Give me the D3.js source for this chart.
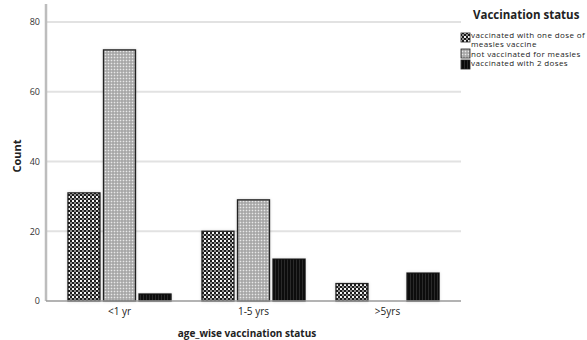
<!DOCTYPE html>
<html><head><meta charset="utf-8">
<script src="https://cdn.jsdelivr.net/npm/d3@7"></script>
<style>body{margin:0;background:#fff;} svg{display:block;font-family:"Open Sans",sans-serif;}</style>
</head><body>
<svg id="c" width="587" height="340"></svg>
<script>
const categories = ["<1 yr", "1-5 yrs", ">5yrs"];
const seriesNames = ["vaccinated with one dose of measles vaccine", "not vaccinated for measles", "vaccinated with 2 doses"];
const oneDose = [31, 20, 5];
const notVaccinated = [72, 29, 0];
const twoDoses = [2, 12, 8];
const yTicks = [0, 20, 40, 60, 80];
const xTitle = "age_wise vaccination status";
const yTitle = "Count";
const legendTitle = "Vaccination status";

const series = [oneDose, notVaccinated, twoDoses];
const svg = d3.select("#c");
const defs = svg.append("defs");

// patterns
const p1 = defs.append("pattern").attr("id","pat0").attr("patternUnits","userSpaceOnUse").attr("width",4).attr("height",4);
p1.append("rect").attr("width",4).attr("height",4).attr("fill","#1a1a1a");
p1.append("rect").attr("x",0).attr("y",0).attr("width",2).attr("height",2).attr("fill","#f4f4f4");
p1.append("rect").attr("x",2).attr("y",2).attr("width",2).attr("height",2).attr("fill","#8a8a8a");
const p2 = defs.append("pattern").attr("id","pat1").attr("patternUnits","userSpaceOnUse").attr("width",3).attr("height",3);
p2.append("rect").attr("width",3).attr("height",3).attr("fill","#b8b8b8");
p2.append("rect").attr("x",0).attr("y",0).attr("width",1).attr("height",1).attr("fill","#e8e8e8");
p2.append("rect").attr("x",1.5).attr("y",1.5).attr("width",1).attr("height",1).attr("fill","#7a7a7a");
const p3 = defs.append("pattern").attr("id","pat2").attr("patternUnits","userSpaceOnUse").attr("width",3).attr("height",3);
p3.append("rect").attr("width",3).attr("height",3).attr("fill","#0a0a0a");
p3.append("rect").attr("x",2).attr("y",0).attr("width",1).attr("height",3).attr("fill","#2a2a2a");
const shadow = defs.append("filter").attr("id","glow").attr("x","-20%").attr("y","-20%").attr("width","140%").attr("height","140%");
shadow.append("feGaussianBlur").attr("in","SourceAlpha").attr("stdDeviation",1.5).attr("result","b");
shadow.append("feFlood").attr("flood-color","#000").attr("flood-opacity",0.15);
shadow.append("feComposite").attr("in2","b").attr("operator","in").attr("result","s");
const fm = shadow.append("feMerge"); fm.append("feMergeNode").attr("in","s"); fm.append("feMergeNode").attr("in","SourceGraphic");

const x0 = d3.scaleBand().domain(categories).range([46, 461]).paddingInner(0.231).paddingOuter(0.164);
const x1 = d3.scaleBand().domain(d3.range(3)).range([0, x0.bandwidth()]).paddingInner(0.1).paddingOuter(0);
const y = d3.scaleLinear().domain([0, 80]).range([301, 22]);

// grid
svg.append("g").selectAll("line").data(yTicks.filter(d=>d>0)).join("line")
  .attr("x1",46).attr("x2",461).attr("y1",d=>y(d)).attr("y2",d=>y(d))
  .attr("stroke","#e2e2e2").attr("stroke-width",2);

// y axis
const yAxis = d3.axisLeft(y).tickValues(yTicks).tickSize(0).tickPadding(6);
const gy = svg.append("g").attr("transform","translate(46,0)").call(yAxis);
gy.select(".domain").remove();
gy.selectAll("text").attr("font-size",9).attr("fill","#333").attr("font-family","Open Sans, sans-serif");
svg.append("line").attr("x1",46).attr("x2",46).attr("y1",4).attr("y2",301).attr("stroke","#bdbdbd").attr("stroke-width",2.5);

// bars
const g = svg.append("g");
categories.forEach((c, ci) => {
  series.forEach((s, si) => {
    if (s[ci] <= 0) return;
    g.append("rect")
      .attr("x", x0(c) + x1(si)).attr("y", y(s[ci]))
      .attr("width", x1.bandwidth()).attr("height", y(0) - y(s[ci]))
      .attr("fill", `url(#pat${si})`).attr("stroke", si===2 ? "#111" : "#222").attr("stroke-width", 1.3)
      .attr("filter","url(#glow)");
  });
});

// baseline
svg.append("line").attr("x1",46).attr("x2",461).attr("y1",301).attr("y2",301).attr("stroke","#9a9a9a").attr("stroke-width",1.5);

// x axis labels
const xAxis = d3.axisBottom(x0).tickSize(0).tickPadding(6);
const gx = svg.append("g").attr("transform","translate(0,302)").call(xAxis);
gx.select(".domain").remove();
gx.selectAll("text").attr("font-size",10).attr("fill","#222").attr("font-family","Open Sans, sans-serif");

// titles
svg.append("text").attr("x",247).attr("y",337).attr("text-anchor","middle").attr("font-size",10).attr("font-weight","bold").attr("fill","#222").text(xTitle);
svg.append("text").attr("transform","translate(21,156) rotate(-90)").attr("text-anchor","middle").attr("font-size",11).attr("font-weight","bold").attr("fill","#222").text(yTitle);

// legend
svg.append("text").attr("x",473).attr("y",19).attr("font-size",11.5).attr("font-weight","bold").attr("fill","#222").text(legendTitle);
const legLines = [["vaccinated with one dose of","measles vaccine"],["not vaccinated for measles"],["vaccinated with 2 doses"]];
const swY = [33, 49, 60];
const txY = [37.5, 56.5, 66];
legLines.forEach((lines, i) => {
  svg.append("rect").attr("x",461).attr("y",swY[i]).attr("width",9).attr("height",9)
    .attr("fill",`url(#pat${i})`).attr("stroke","#222").attr("stroke-width",0.8);
  lines.forEach((t, j) => {
    svg.append("text").attr("x",471).attr("y",txY[i] + j*9.5).attr("font-size",8).attr("letter-spacing",0.38).attr("fill","#222").text(t);
  });
});
</script>
</body></html>
